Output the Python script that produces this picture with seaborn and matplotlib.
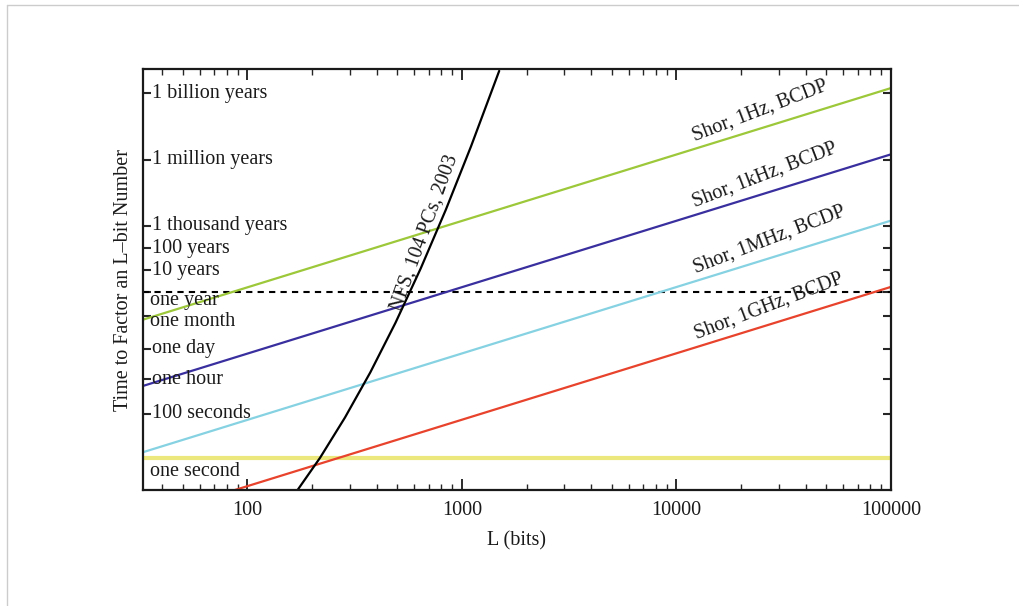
import matplotlib
matplotlib.use('Agg')
import matplotlib.pyplot as plt
import pandas as pd
import seaborn as sns
from matplotlib.lines import Line2D
from matplotlib.ticker import FixedLocator, LogLocator, NullFormatter

sns.set_theme(style='ticks')
plt.rcParams['font.family'] = ['Liberation Serif', 'DejaVu Serif']

# Shor's algorithm (straight lines on log-log), end points
shor_bits = [32.6, 100000]
shor_names = ['Shor, 1Hz, BCDP', 'Shor, 1kHz, BCDP', 'Shor, 1MHz, BCDP', 'Shor, 1GHz, BCDP']
shor_1hz = [1.8e6, 5.5e16]
shor_1khz = [1.8e3, 5.5e13]
shor_1mhz = [1.8, 5.5e10]
shor_1ghz = [1.8e-3, 5.5e7]

# number field sieve curve
nfs_name = 'NFS, 104 PCs, 2003'
nfs_bits = [172, 218, 285, 374, 490, 642, 841, 1102, 1492]
nfs_seconds = [0.037, 1.0, 67, 7.4e3, 1.3e6, 3.7e8, 1.7e11, 1.25e14, 3.3e17]

one_year = 3.156e7
one_second = 1.0

time_ticks = [3.156e16, 3.156e13, 3.156e10, 3.156e9, 3.156e8, 3.156e7, 2.63e6, 86400, 3600, 100, 1]
time_labels = ['1 billion years', '1 million years', '1 thousand years', '100 years', '10 years',
               'one year', 'one month', 'one day', 'one hour', '100 seconds', 'one second']
x_ticks = [100, 1000, 10000, 100000]
x_labels = ['100', '1000', '10000', '100000']

colors = ['#9cc83a', '#3a2f9e', '#86d2e2', '#e8432c']
FS = 14.5
INK = '#1a1a1a'

shor_df = pd.concat([
    pd.DataFrame({'L': shor_bits, 't': vals, 'series': name})
    for name, vals in zip(shor_names, [shor_1hz, shor_1khz, shor_1mhz, shor_1ghz])
])
nfs_df = pd.DataFrame({'L': nfs_bits, 't': nfs_seconds})

fig = plt.figure(figsize=(10.19, 6.06), dpi=100)
ax = fig.add_axes([0.1403, 0.1914, 0.7341, 0.6947])
ax.set_xscale('log')
ax.set_yscale('log')

ax.axhline(one_second, color='#ece87e', lw=3, zorder=1)
ax.axhline(one_year, color='black', lw=1.5, ls=(0, (3, 2.5)), zorder=2)

sns.lineplot(data=shor_df, x='L', y='t', hue='series', palette=colors, legend=False,
             lw=1.6, sort=False, ax=ax)
sns.lineplot(data=nfs_df, x='L', y='t', color='black', lw=1.6, sort=False, ax=ax)

ax.set_xlim(32.6, 100000)
ax.set_ylim(0.035, 4e17)

# x ticks
ax.xaxis.set_major_locator(FixedLocator(x_ticks))
ax.set_xticklabels(x_labels, fontsize=FS)
ax.xaxis.set_minor_locator(LogLocator(base=10, subs=range(2, 10)))
ax.xaxis.set_minor_formatter(NullFormatter())
ax.tick_params(axis='x', which='major', direction='in', top=True, bottom=True,
               length=8, width=1.3, pad=8, colors=INK)
ax.tick_params(axis='x', which='minor', direction='in', top=True, bottom=True,
               length=4, width=1.0)

# y ticks: labels drawn inside the frame
ax.yaxis.set_major_locator(FixedLocator(time_ticks))
ax.yaxis.set_minor_locator(FixedLocator([]))
ax.set_yticklabels([''] * len(time_ticks))
ax.tick_params(axis='y', which='major', direction='in', left=True, right=True,
               length=6, width=1.5)
label_dy = {'one year': -6, 'one month': -4, 'one second': -10}
label_dx = {'one year': 5, 'one month': 5, 'one second': 5}
for val, lab in zip(time_ticks, time_labels):
    ax.annotate(lab, xy=(0, val), xycoords=('axes fraction', 'data'),
                xytext=(label_dx.get(lab, 6.5), label_dy.get(lab, 0)), textcoords='offset points',
                ha='left', va='center', fontsize=FS, color=INK)

# line labels
shor_label_pos = [(24500, 5.1e15), (25900, 6.5e12), (27000, 7.4e9), (27000, 6.9e6)]
for name, (lx, ly) in zip(shor_names, shor_label_pos):
    ax.text(lx, ly, name, rotation=21, rotation_mode='anchor', ha='center', va='center',
            fontsize=FS, color=INK)
ax.text(670, 1.5e10, nfs_name, rotation=70, rotation_mode='anchor', ha='center', va='center',
        fontsize=FS, color=INK)

ax.set_xlabel('L (bits)', fontsize=FS, labelpad=8, color=INK)
ax.set_ylabel('Time to Factor an L\u2013bit Number', fontsize=FS, labelpad=4, color=INK)

for sp in ax.spines.values():
    sp.set_linewidth(1.6)
    sp.set_color(INK)

# thin page border from the source page
fig.add_artist(Line2D([7 / 1019, 1], [1 - 5 / 606] * 2, transform=fig.transFigure,
                      color='#cccccc', lw=1))
fig.add_artist(Line2D([7 / 1019] * 2, [0, 1 - 5 / 606], transform=fig.transFigure,
                      color='#cccccc', lw=1))

fig.savefig('out.png', dpi=100)
plt.close(fig)
